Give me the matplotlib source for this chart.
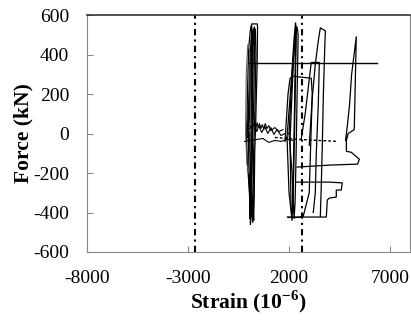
import matplotlib
matplotlib.use("Agg")
import matplotlib.pyplot as plt

# Force-strain hysteresis data (strain in 1e-6, force in kN)
b1a_x = [0, 60, 150, 200, 240, 210, 150, 80, 60, 30, 0]
b1a_y = [0, 150, 380, 500, 530, 300, 0, -250, -430, -200, 0]
b1b_x = [-50, 30, 100, 160, 280, 300, 250, 180, 120, 90, 60, -20]
b1b_y = [20, 120, 330, 450, 540, 480, 150, -50, -300, -460, -350, 10]
b1c_x = [140, 150, 150, 430, 440, 420, 350, 300, 280, 250, 200]
b1c_y = [200, 440, 555, 555, 540, 350, 60, -100, -280, -440, -380]
b1d_x = [-100, -60, 0, 80, 120, 160, 200, 180, 100, 40, -60, -100]
b1d_y = [-30, 200, 430, 520, 545, 520, 100, -100, -380, -300, -150, -30]
b1e_x = [-150, -120, -40, 50, 100, 20, -80, -150]
b1e_y = [0, 300, 450, 420, 0, -200, -160, 0]
b1f_x = [-80, 0, 60, 120, 180, 150, 110, 90, 130, 200, 260, 220, 120, -80]
b1f_y = [-20, 150, 350, 480, 520, 250, 0, -200, -400, -450, -300, -100, 0, -20]
b1g_x = [-20, 40, 100, 200, 330, 360, 310, 240, 200, 160, 100, 20]
b1g_y = [10, 200, 400, 500, 530, 400, 120, -120, -330, -420, -250, 10]

n1_x = [-100, 200, 300, 350, 420, 480, 540, 600, 680, 750, 820, 900, 1000, 1100, 1300, 1500, 1700]
n1_y = [40, 35, 60, 20, 55, 30, 50, 25, 45, 20, 50, 25, 40, 15, 30, 10, 20]
n3_x = [0, 250, 400, 500, 650, 800, 950, 1100, 1250, 1400, 1600, 1800]
n3_y = [20, 45, 10, 40, 5, 35, 0, 30, -5, 20, -10, 0]
n2_x = [-200, 100, 400, 700, 1000, 1300, 1600, 1900, 2200]
n2_y = [-40, -35, -30, -25, -45, -35, -40, -30, -35]
dash_x = [1300, 2500, 4400]
dash_y = [-20, -30, -40]

b2a_x = [1900, 2100, 2250, 2320, 2350, 2300, 2250, 2200, 2150, 2000, 1900]
b2a_y = [-20, 250, 480, 560, 540, 300, 0, -250, -440, -300, -20]
b2b_x = [2000, 2150, 2300, 2400, 2450, 2400, 2350, 2300, 2250, 2150, 2000]
b2b_y = [0, 300, 500, 540, 500, 200, -100, -350, -430, -200, 0]
b2c_x = [1800, 1950, 2050, 2200, 3100, 3150, 3000, 2700, 2600, 2500, 1950]
b2c_y = [-40, 200, 280, 290, 280, 200, -300, -420, -420, -425, -425]
b2d_x = [2050, 2180, 2280, 2360, 2330, 2280, 2230, 2180, 2100, 2050]
b2d_y = [-30, 280, 460, 520, 350, 50, -200, -400, -380, -30]

b3a_x = [3000, 3150, 3300, 3450, 3550, 3800, 3780, 3700, 3650, 3600, 3550]
b3a_y = [-60, 180, 350, 470, 535, 520, 470, 200, -50, -250, -420]
b3b_x = [2600, 2800, 3100, 3500, 3450, 3350, 3300, 3200]
b3b_y = [-30, 100, 360, 360, 150, -100, -300, -400]

b4_x = [4800, 4900, 5000, 5100, 5330, 5230, 5080, 4930, 4840, 4840, 5080, 5250, 5480, 5400, 3990, 2400]
b4_y = [-35, 50, 150, 300, 490, 20, 10, 0, -35, -90, -95, -110, -130, -155, -160, -170]
b5_x = [2366, 3994, 4636, 4587, 4340, 4340, 3994, 3895, 3846, 1921]
b5_y = [-246, -246, -250, -286, -286, -322, -327, -337, -423, -423]

plateau_x = [0, 6360]
plateau_y = [357, 357]
yield_strain = [-2660, 2660]

plt.rcParams['font.family'] = ['Liberation Serif', 'DejaVu Serif']
plt.rcParams['axes.unicode_minus'] = False
plt.rcParams['mathtext.fontset'] = 'custom'
plt.rcParams['mathtext.rm'] = 'Liberation Serif:bold'
plt.rcParams['mathtext.bf'] = 'Liberation Serif:bold'

fig = plt.figure(figsize=(4.11, 3.2), dpi=100)
ax = fig.add_axes([0.212, 0.2125, 0.786, 0.7405])

for xs, ys in [(b1a_x, b1a_y), (b1b_x, b1b_y), (b1c_x, b1c_y), (b1d_x, b1d_y),
               (b1f_x, b1f_y), (b1g_x, b1g_y),
               (b2a_x, b2a_y), (b2b_x, b2b_y), (b2c_x, b2c_y), (b2d_x, b2d_y),
               (b3a_x, b3a_y), (b3b_x, b3b_y), (b4_x, b4_y), (b5_x, b5_y)]:
    ax.plot(xs, ys, color='black', lw=0.9)
ax.plot(b1e_x, b1e_y, color='#555555', lw=0.8)
ax.plot(n1_x, n1_y, color='black', lw=0.8)
ax.plot(n3_x, n3_y, color='black', lw=0.8)
ax.plot(n2_x, n2_y, color='black', lw=0.8)
ax.plot(dash_x, dash_y, color='black', lw=1.0, linestyle=(0, (2, 1.5)))
ax.plot(plateau_x, plateau_y, color='black', lw=1.0)
for xv in yield_strain:
    ax.axvline(xv, color='black', lw=1.5, linestyle=(0, (3, 2, 1, 2)))

ax.set_xlim(-8000, 8000)
ax.set_ylim(-600, 600)
ax.set_xticks([-8000, -3000, 2000, 7000])
ax.set_yticks([-600, -400, -200, 0, 200, 400, 600])
ax.tick_params(direction='in', length=4, color='#888888', labelsize=14)
ax.tick_params(axis='y', pad=13)
ax.tick_params(axis='x', pad=13)
for s in ['left', 'right', 'bottom']:
    ax.spines[s].set_color('#888888')
ax.spines['top'].set_color('#333333')
ax.spines['top'].set_linewidth(1.2)

ax.set_xlabel(r'Strain (10$^{-6}$)', fontsize=15.5, fontweight='bold', labelpad=1)
ax.set_ylabel('Force (kN)', fontsize=15.5, fontweight='bold', labelpad=0)

fig.savefig('out.png', dpi=100)
